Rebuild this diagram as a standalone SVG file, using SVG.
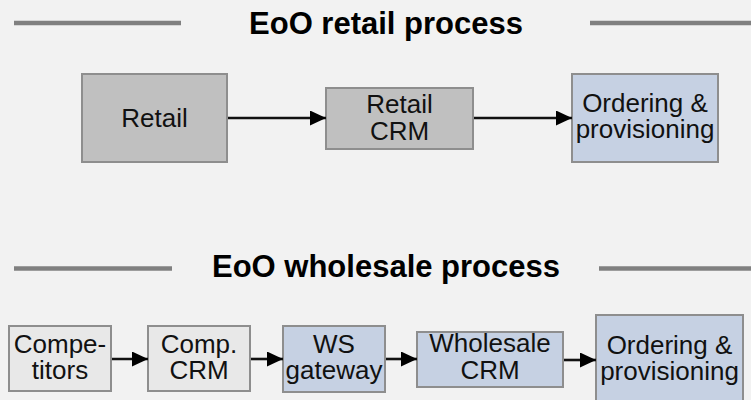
<svg xmlns="http://www.w3.org/2000/svg" width="751" height="400" viewBox="0 0 751 400">
<defs>
<marker id="ah" markerWidth="16" markerHeight="15" refX="16" refY="7.5" orient="auto" markerUnits="userSpaceOnUse">
<path d="M0,0 L16,7.5 L0,15 Z" fill="#000"/>
</marker>
<style>
.rule{stroke:#808080;stroke-width:4.5}
.title{font-family:"Liberation Sans",Arial,sans-serif;font-weight:bold;font-size:31px;fill:#000;text-anchor:middle}
.lbl{font-family:"Liberation Sans",Arial,sans-serif;font-size:26px;fill:#111;text-anchor:middle}
.gray{fill:#c0c0c0;stroke:#8e8e8e;stroke-width:2}
.light{fill:#e8e8e8;stroke:#8e8e8e;stroke-width:2}
.blue{fill:#c6d1e3;stroke:#8e8e8e;stroke-width:2}
.conn{stroke:#111;stroke-width:2.6;fill:none;marker-end:url(#ah)}
</style>
</defs>
<rect x="0" y="0" width="751" height="400" fill="#f2f2f2"/>
<g id="header-retail">
<line class="rule" x1="14" y1="23" x2="181" y2="23"/>
<line class="rule" x1="590" y1="23" x2="751" y2="23"/>
<text class="title" x="386" y="34">EoO retail process</text>
</g>
<g id="header-wholesale">
<line class="rule" x1="14" y1="268.5" x2="172" y2="268.5"/>
<line class="rule" x1="599" y1="268.5" x2="751" y2="268.5"/>
<text class="title" x="386" y="277">EoO wholesale process</text>
</g>
<g id="retail">
<rect class="gray" x="82" y="74" width="145" height="88"/>
<text class="lbl" x="154.5" y="127">Retail</text>
</g>
<g id="retail-crm">
<rect class="gray" x="326" y="88" width="147" height="61"/>
<text class="lbl"><tspan x="399.5" y="113">Retail</tspan><tspan x="399.5" y="140">CRM</tspan></text>
</g>
<g id="ordering-retail">
<rect class="blue" x="572" y="74" width="146" height="88"/>
<text class="lbl"><tspan x="645" y="111.5">Ordering &amp;</tspan><tspan x="645" y="138">provisioning</tspan></text>
</g>
<g id="competitors">
<rect class="light" x="9" y="326" width="102" height="65"/>
<text class="lbl"><tspan x="60" y="352.5">Compe-</tspan><tspan x="60" y="378.5">titors</tspan></text>
</g>
<g id="comp-crm">
<rect class="light" x="148" y="326" width="102" height="65"/>
<text class="lbl"><tspan x="199" y="352.5">Comp.</tspan><tspan x="199" y="378.5">CRM</tspan></text>
</g>
<g id="ws-gateway">
<rect class="blue" x="283" y="326" width="102" height="66"/>
<text class="lbl"><tspan x="334" y="352.5">WS</tspan><tspan x="334" y="378.5">gateway</tspan></text>
</g>
<g id="wholesale-crm">
<rect class="blue" x="417" y="332" width="146" height="55"/>
<text class="lbl"><tspan x="490" y="352">Wholesale</tspan><tspan x="490" y="379">CRM</tspan></text>
</g>
<g id="ordering-wholesale">
<rect class="blue" x="596" y="315" width="147" height="92"/>
<text class="lbl"><tspan x="669.5" y="353.5">Ordering &amp;</tspan><tspan x="669.5" y="380">provisioning</tspan></text>
</g>
<g id="connectors">
<line class="conn" x1="228" y1="118" x2="326" y2="118"/>
<line class="conn" x1="474" y1="118" x2="572" y2="118"/>
<line class="conn" x1="112" y1="359" x2="148" y2="359"/>
<line class="conn" x1="251" y1="359" x2="283" y2="359"/>
<line class="conn" x1="386" y1="359" x2="417" y2="359"/>
<line class="conn" x1="564" y1="360" x2="596" y2="360"/>
</g>
</svg>
